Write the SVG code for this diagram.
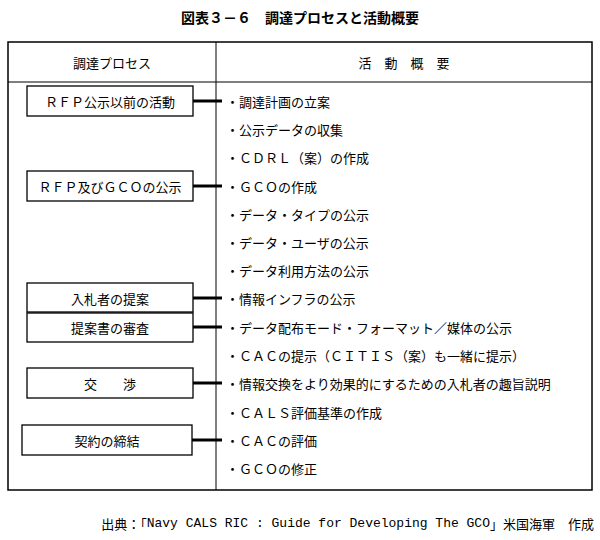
<svg xmlns="http://www.w3.org/2000/svg" width="600" height="540" viewBox="0 0 600 540">
<style>
text{font-family:"Noto Sans CJK JP","Noto Sans CJK SC",sans-serif;font-size:13px;fill:#000;dominant-baseline:central}
.b{fill:#fff;stroke:#000;stroke-width:1.3}
.c{stroke:#000;stroke-width:3}
.m{text-anchor:middle}
</style>
<rect width="600" height="540" fill="#fff"/>
<text x="300" y="17" class="m" style="font-weight:bold;font-size:14px">図表３－６　調達プロセスと活動概要</text>
<g id="table" fill="none" stroke="#000">
<rect x="8" y="42" width="584" height="448" stroke-width="1.5"/>
<line x1="216" y1="42" x2="216" y2="490"/>
<line x1="8" y1="82" x2="592" y2="82"/>
</g>
<text x="112" y="62" class="m">調達プロセス</text>
<text x="404" y="62" class="m">活　動　概　要</text>
<g id="connectors">
<line class="c" x1="193" y1="101" x2="222" y2="101"/>
<line class="c" x1="193" y1="186" x2="222" y2="186"/>
<line class="c" x1="193" y1="298" x2="222" y2="298"/>
<line class="c" x1="193" y1="327" x2="222" y2="327"/>
<line class="c" x1="193" y1="383" x2="222" y2="383"/>
<line class="c" x1="192" y1="440" x2="222" y2="440"/>
</g>
<g id="n1"><rect class="b" x="27" y="86" width="166" height="30"/><text x="110" y="101" class="m">ＲＦＰ公示以前の活動</text></g>
<g id="n2"><rect class="b" x="27" y="171" width="166" height="30"/><text x="110" y="186" class="m">ＲＦＰ及びＧＣＯの公示</text></g>
<g id="n3"><rect class="b" x="27" y="283" width="166" height="29"/><text x="110" y="298" class="m">入札者の提案</text></g>
<g id="n4"><rect class="b" x="27" y="313" width="166" height="29"/><text x="110" y="327" class="m">提案書の審査</text></g>
<g id="n5"><rect class="b" x="27" y="368" width="166" height="30"/><text x="110" y="383" class="m">交　　渉</text></g>
<g id="n6"><rect class="b" x="22" y="425" width="170" height="30"/><text x="107" y="440" class="m">契約の締結</text></g>
<g id="items">
<text x="226" y="101">・調達計画の立案</text>
<text x="226" y="129">・公示データの収集</text>
<text x="226" y="157">・ＣＤＲＬ（案）の作成</text>
<text x="226" y="186">・ＧＣＯの作成</text>
<text x="226" y="214">・データ・タイプの公示</text>
<text x="226" y="242">・データ・ユーザの公示</text>
<text x="226" y="270">・データ利用方法の公示</text>
<text x="226" y="298">・情報インフラの公示</text>
<text x="226" y="327">・データ配布モード・フォーマット／媒体の公示</text>
<text x="226" y="355">・ＣＡＣの提示（ＣＩＴＩＳ（案）も一緒に提示）</text>
<text x="226" y="383">・情報交換をより効果的にするための入札者の趣旨説明</text>
<text x="226" y="412">・ＣＡＬＳ評価基準の作成</text>
<text x="226" y="440">・ＣＡＣの評価</text>
<text x="226" y="468">・ＧＣＯの修正</text>
</g>
<text x="594" y="523" style="text-anchor:end;font-size:13px">出典：「<tspan style="font-family:'Liberation Mono',monospace">Navy CALS RIC : Guide for Developing The GCO</tspan>」米国海軍　作成</text>
</svg>
